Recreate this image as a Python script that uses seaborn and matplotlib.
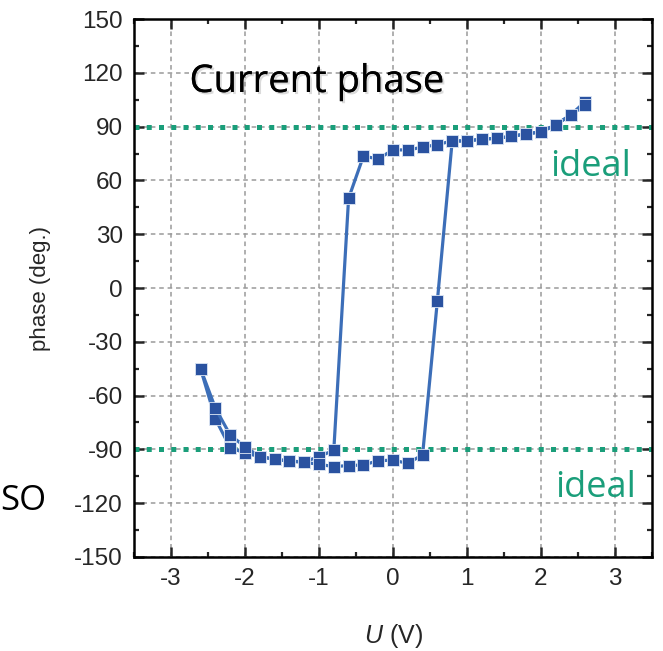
import matplotlib
matplotlib.use("Agg")
import matplotlib.pyplot as plt
import matplotlib.patheffects as pe
from matplotlib.ticker import MultipleLocator
import seaborn as sns
import pandas as pd

# ---- data ----
u_down = [2.6, 2.4, 2.2, 2.0, 1.8, 1.6, 1.4, 1.2, 1.0, 0.8, 0.6, 0.4, 0.2, 0.0,
          -0.2, -0.4, -0.6, -0.8, -1.0, -1.2, -1.4, -1.6, -1.8, -2.0, -2.2, -2.4, -2.6]
phase_down = [104, 96.5, 91, 87, 86, 84.5, 83.5, 83, 82, 82, 80, 78.5, 77, 77,
              72, 73.5, 50, -90.5, -94, -97, -96.5, -95.5, -94, -92, -89, -73, -45]
u_up = [-2.6, -2.4, -2.2, -2.0, -1.8, -1.6, -1.4, -1.2, -1.0, -0.8, -0.6, -0.4, -0.2, 0.0,
        0.2, 0.4, 0.6, 0.8, 1.0, 1.2, 1.4, 1.6, 1.8, 2.0, 2.2, 2.4, 2.6]
phase_up = [-45, -67, -82, -88.5, -94, -95.5, -96.5, -97.2, -98.3, -99.6, -99, -98.7, -96.3, -96,
            -97.8, -93, -7, 82, 82, 83, 83.5, 84.5, 86, 87, 91, 96.5, 102]
ideal_levels = [90, -90]
x_ticks = [-3, -2, -1, 0, 1, 2, 3]
y_ticks = [-150, -120, -90, -60, -30, 0, 30, 60, 90, 120, 150]

df_down = pd.DataFrame({"U": u_down, "phase": phase_down})
df_up = pd.DataFrame({"U": u_up, "phase": phase_up})

sns.set_style("ticks")
plt.rcParams["font.family"] = ["Liberation Sans", "DejaVu Sans"]
plt.rcParams["mathtext.fontset"] = "custom"
plt.rcParams["mathtext.it"] = "Liberation Sans:italic"
plt.rcParams["mathtext.rm"] = "Liberation Sans"

fig = plt.figure(figsize=(6.63, 6.51), dpi=100)
ax = fig.add_axes([0.2021, 0.1444, 0.7813, 0.8264])

green = "#1A9E7A"
for lv in ideal_levels:
    ax.axhline(lv, color=green, lw=3.6, linestyle=(0, (1.0, 1.45)), zorder=2)

line_kw = dict(color="#3C6EB8", lw=2.3, marker="s", markersize=8.0,
               markerfacecolor="#2A52A0", markeredgecolor="#dfe8f5",
               markeredgewidth=0.6, sort=False, estimator=None, zorder=3)
sns.lineplot(data=df_down, x="U", y="phase", ax=ax, **line_kw)
sns.lineplot(data=df_up, x="U", y="phase", ax=ax, **line_kw)

ax.set_xlim(-3.5, 3.5)
ax.set_ylim(-150, 150)
ax.set_xticks(x_ticks)
ax.set_yticks(y_ticks)
ax.set_xticklabels([str(t) for t in x_ticks])
ax.set_yticklabels([str(t) for t in y_ticks])
ax.xaxis.set_minor_locator(MultipleLocator(0.5))
ax.yaxis.set_minor_locator(MultipleLocator(15))
ax.tick_params(which="both", direction="in", top=True, right=True, labelsize=17.5)
ax.tick_params(which="major", length=7, width=1.8, pad=8)
ax.tick_params(which="minor", length=3.5, width=1.6)
for s in ax.spines.values():
    s.set_linewidth(1.8)
    s.set_color("black")

ax.grid(True, which="major", color="#9a9a9a", lw=1.1, linestyle=(0, (3, 2.5)))
ax.set_axisbelow(True)

ax.set_xlabel(r"$U$ (V)", fontsize=18)
ax.set_ylabel("phase (deg.)", fontsize=16)
ax.xaxis.set_label_coords(0.5, -0.12)
ax.yaxis.set_label_coords(-0.16, 0.5)

shadow = [pe.withSimplePatchShadow(offset=(1.5, -1.5), shadow_rgbFace="#888888", alpha=0.3), pe.Normal()]
ax.text(-2.75, 109.3, "Current phase", fontsize=27.5, family=["Open Sans", "DejaVu Sans"],
        ha="left", va="baseline", color="black", path_effects=shadow, zorder=5)
ax.text(3.22, 62.5, "ideal", fontsize=26, family=["Open Sans", "DejaVu Sans"],
        ha="right", va="baseline", color=green, zorder=5)
ax.text(3.28, -116.5, "ideal", fontsize=26, family=["Open Sans", "DejaVu Sans"],
        ha="right", va="baseline", color=green, zorder=5)

fig.text(0.0, 0.2166, "SO", fontsize=25, family=["Open Sans", "DejaVu Sans"],
         ha="left", va="baseline", color="black")

fig.savefig("out.png", dpi=100)
